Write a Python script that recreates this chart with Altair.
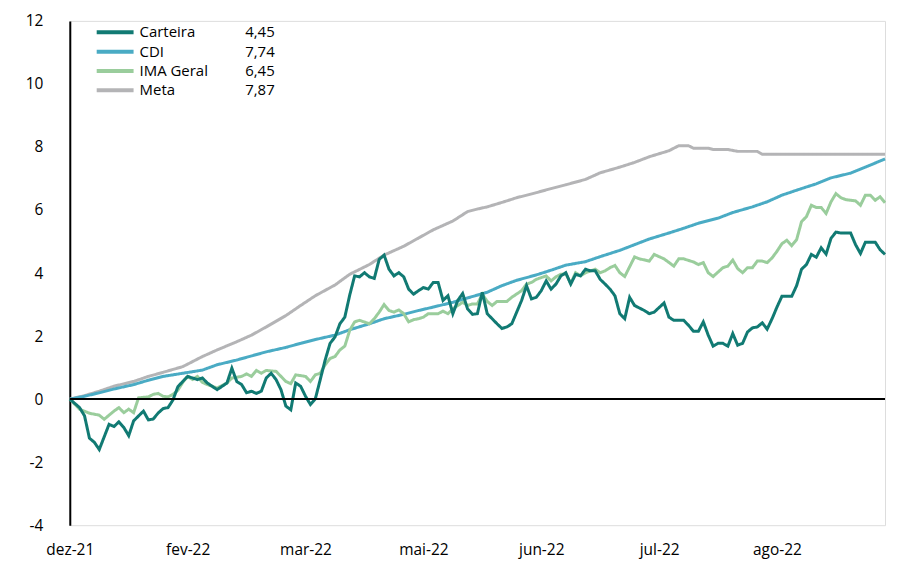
import altair as alt
import pandas as pd

series_names = ["Carteira", "CDI", "IMA Geral", "Meta"]
final_values = ["4,45", "7,74", "6,45", "7,87"]
series_colors = ["#117a73", "#4aabc4", "#9acd9c", "#b4b4b6"]
draw_order = ["Meta", "CDI", "IMA Geral", "Carteira"]

x_tick_pos = [0, 24, 48, 72, 96, 120, 144]
x_tick_labels = ["dez-21", "fev-22", "mar-22", "mai-22", "jun-22", "jul-22", "ago-22"]
y_ticks = [-4, -2, 0, 2, 4, 6, 8, 10, 12]
last_day = 166

carteira_dia = [0, 2, 3, 4, 5, 6, 8, 9, 10, 11, 12, 13, 15, 16, 17, 18, 19, 20, 21, 22,
                23, 24, 26, 27, 28, 30, 32, 33, 34, 35, 36, 37, 38, 39, 40, 41, 42, 43, 44, 45,
                46, 47, 48, 49, 50, 51, 52, 53, 54, 55, 56, 57, 58, 59, 60, 61, 62, 63, 64, 65,
                66, 67, 68, 69, 70, 71, 72, 73, 74, 75, 76, 77, 78, 79, 80, 81, 82, 83, 84, 85,
                86, 87, 88, 89, 90, 91, 92, 93, 94, 95, 96, 97, 98, 99, 100, 101, 102, 103, 104, 105,
                106, 107, 108, 109, 110, 111, 112, 113, 114, 115, 117, 118, 119, 121, 122, 123, 125, 126, 127, 128,
                129, 130, 131, 132, 133, 134, 135, 136, 137, 138, 139, 140, 141, 142, 143, 144, 145, 146, 147, 148,
                149, 150, 151, 152, 153, 154, 155, 156, 157, 158, 159, 160, 161, 162, 163, 164, 165, 166]
carteira_val = [0.0, -0.27, -0.53, -1.24, -1.37, -1.60, -0.80, -0.87, -0.72, -0.90, -1.16, -0.69, -0.38, -0.66, -0.63, -0.44, -0.30, -0.27, -0.03, 0.39,
                0.56, 0.72, 0.62, 0.67, 0.51, 0.30, 0.51, 0.98, 0.56, 0.46, 0.20, 0.25, 0.18, 0.25, 0.67, 0.82, 0.62, 0.30, -0.22, -0.34,
                0.51, 0.41, 0.09, -0.17, 0.01, 0.62, 1.24, 1.77, 1.97, 2.39, 2.60, 3.30, 3.91, 3.88, 4.01, 3.88, 3.83, 4.43, 4.57, 4.12,
                3.91, 4.01, 3.88, 3.49, 3.33, 3.44, 3.54, 3.49, 3.70, 3.70, 3.13, 3.28, 2.71, 3.13, 3.35, 2.86, 2.69, 2.71, 3.39, 2.71,
                2.55, 2.39, 2.24, 2.29, 2.39, 2.76, 3.13, 3.60, 3.18, 3.23, 3.44, 3.75, 3.49, 3.65, 3.91, 4.01, 3.65, 3.96, 3.91, 4.12,
                4.07, 4.07, 3.80, 3.65, 3.49, 3.28, 2.71, 2.55, 3.23, 2.97, 2.81, 2.71, 2.76, 3.05, 2.60, 2.50, 2.50, 2.34, 2.15, 2.15,
                2.45, 2.03, 1.68, 1.77, 1.77, 1.68, 2.08, 1.71, 1.77, 2.13, 2.26, 2.29, 2.42, 2.22, 2.55, 2.92, 3.26, 3.26, 3.26, 3.60,
                4.12, 4.27, 4.59, 4.50, 4.80, 4.60, 5.10, 5.30, 5.27, 5.27, 5.27, 4.90, 4.62, 4.98, 4.98, 4.98, 4.74, 4.59]

ima_dia = [0, 2, 4, 6, 7, 9, 10, 11, 12, 13, 14, 16, 17, 18, 19, 20, 21, 22, 23, 24,
           25, 26, 27, 28, 30, 32, 33, 35, 36, 37, 38, 39, 40, 42, 43, 44, 45, 46, 48, 49,
           50, 51, 52, 53, 54, 55, 56, 57, 58, 59, 61, 62, 63, 64, 65, 66, 67, 68, 69, 70,
           71, 72, 73, 75, 76, 77, 78, 79, 80, 81, 82, 83, 84, 85, 86, 87, 89, 90, 92, 93,
           94, 95, 97, 98, 99, 100, 101, 102, 103, 104, 105, 107, 108, 109, 110, 111, 112, 113, 115, 116,
           118, 119, 121, 123, 124, 125, 127, 128, 129, 130, 131, 132, 133, 134, 135, 136, 137, 138, 139, 140,
           141, 142, 143, 144, 145, 146, 147, 148, 149, 150, 151, 152, 153, 154, 155, 156, 157, 158, 160, 161,
           162, 163, 164, 165, 166]
ima_val = [0.0, -0.32, -0.45, -0.51, -0.64, -0.38, -0.27, -0.43, -0.32, -0.43, 0.04, 0.07, 0.15, 0.18, 0.09, 0.07, 0.15, 0.28, 0.53, 0.72,
           0.62, 0.72, 0.53, 0.46, 0.35, 0.51, 0.67, 0.72, 0.80, 0.72, 0.91, 0.82, 0.91, 0.88, 0.72, 0.56, 0.49, 0.77, 0.72, 0.56,
           0.77, 0.82, 1.09, 1.29, 1.35, 1.56, 1.68, 2.18, 2.45, 2.50, 2.39, 2.55, 2.76, 3.00, 2.81, 2.76, 2.83, 2.71, 2.45, 2.52,
           2.55, 2.60, 2.71, 2.71, 2.79, 2.71, 2.86, 2.97, 3.07, 2.97, 3.02, 3.02, 3.33, 3.10, 2.97, 3.10, 3.10, 3.23, 3.44, 3.65,
           3.70, 3.80, 3.91, 3.75, 3.88, 3.96, 3.98, 3.67, 4.01, 3.91, 4.01, 4.12, 4.01, 4.07, 4.17, 4.24, 4.01, 3.89, 4.51, 4.45,
           4.38, 4.59, 4.45, 4.22, 4.45, 4.45, 4.35, 4.27, 4.33, 4.01, 3.89, 4.03, 4.17, 4.22, 4.41, 4.14, 4.01, 4.17, 4.17, 4.38,
           4.38, 4.33, 4.48, 4.69, 4.93, 5.04, 4.87, 5.06, 5.63, 5.79, 6.15, 6.08, 6.08, 5.89, 6.26, 6.52, 6.39, 6.33, 6.29, 6.15,
           6.47, 6.47, 6.31, 6.42, 6.23]

cdi_dia = [0, 3, 6, 9, 13, 16, 19, 23, 27, 30, 34, 37, 40, 44, 47, 50, 54, 57, 61, 64,
           68, 71, 74, 78, 81, 85, 88, 91, 95, 98, 101, 105, 108, 112, 115, 118, 122, 125, 128, 132,
           135, 139, 142, 145, 149, 152, 155, 159, 162, 166]
cdi_val = [0.0, 0.09, 0.20, 0.32, 0.46, 0.60, 0.72, 0.82, 0.92, 1.09, 1.24, 1.37, 1.50, 1.64, 1.77, 1.89, 2.03, 2.20, 2.39, 2.55,
           2.69, 2.81, 2.92, 3.07, 3.21, 3.39, 3.60, 3.77, 3.94, 4.09, 4.25, 4.36, 4.52, 4.72, 4.90, 5.08, 5.27, 5.42, 5.58, 5.74,
           5.92, 6.10, 6.26, 6.47, 6.68, 6.83, 7.02, 7.17, 7.36, 7.62]

meta_dia = [0, 3, 6, 9, 13, 16, 19, 23, 27, 30, 34, 37, 40, 44, 47, 50, 54, 57, 61, 64,
            68, 71, 74, 78, 81, 83, 85, 88, 91, 95, 98, 101, 105, 108, 112, 115, 118, 122, 124, 126,
            127, 130, 131, 134, 136, 140, 141, 166]
meta_val = [0.0, 0.11, 0.25, 0.41, 0.56, 0.72, 0.85, 1.03, 1.35, 1.56, 1.82, 2.03, 2.29, 2.65, 2.97, 3.28, 3.62, 3.96, 4.27, 4.57,
            4.85, 5.11, 5.37, 5.65, 5.95, 6.03, 6.10, 6.24, 6.39, 6.55, 6.68, 6.80, 6.97, 7.18, 7.36, 7.51, 7.69, 7.88, 8.04, 8.04,
            7.96, 7.96, 7.92, 7.92, 7.86, 7.86, 7.77, 7.77]

rows = []
for name, final, dias, vals in zip(series_names, final_values,
                                   [carteira_dia, cdi_dia, ima_dia, meta_dia],
                                   [carteira_val, cdi_val, ima_val, meta_val]):
    for d, v in zip(dias, vals):
        rows.append({"serie": name, "valor_final": final, "dia": d, "retorno": v})
df = pd.DataFrame(rows)

FONT = "Open Sans"
label_expr = "[" + ",".join("'%s'" % s for s in x_tick_labels) + "][indexof([" + \
    ",".join(str(p) for p in x_tick_pos) + "], datum.value)]"

x_enc = alt.X("dia:Q",
              scale=alt.Scale(domain=[0, last_day], nice=False, zero=False),
              axis=alt.Axis(values=x_tick_pos, labelExpr=label_expr, grid=False, domain=False,
                            ticks=False, labelPadding=17, labelFontSize=15.5, labelFont=FONT,
                            labelColor="black", title=None, labelFlush=False))
y_scale = alt.Scale(domain=[-4, 12], nice=False, zero=False)
y_axis = alt.Axis(values=y_ticks, labelExpr="datum.value + ''", grid=False, domain=True,
                  domainColor="black", domainWidth=2, ticks=False, labelPadding=27,
                  labelFontSize=15.5, labelFont=FONT, labelColor="black", title=None)
y_enc = alt.Y("retorno:Q", scale=y_scale, axis=y_axis)

color_enc = alt.Color("serie:N",
                      scale=alt.Scale(domain=series_names, range=series_colors),
                      legend=alt.Legend(title=None, orient="none", legendX=25, legendY=2,
                                        symbolType="stroke", symbolSize=1369, symbolStrokeWidth=4,
                                        clipHeight=19, rowPadding=0.4, labelOffset=4, padding=0,
                                        labelFont=FONT, labelFontSize=15, labelColor="black"))
dash_enc = alt.StrokeDash("valor_final:N",
                          scale=alt.Scale(domain=final_values, range=[[1, 0]] * len(final_values)),
                          legend=alt.Legend(title=None, orient="none", legendX=161, legendY=2,
                                            symbolSize=0, symbolOpacity=0, symbolStrokeWidth=0,
                                            clipHeight=19, rowPadding=0.4, labelOffset=0, padding=0,
                                            labelFont=FONT, labelFontSize=15, labelColor="black"))

layers = []
for s in draw_order:
    layers.append(
        alt.Chart(df).transform_filter(alt.datum.serie == s)
        .mark_line(strokeWidth=3)
        .encode(x=x_enc, y=y_enc, color=color_enc, strokeDash=dash_enc)
    )

zero_df = pd.DataFrame({"retorno": [0]})
zero_rule = alt.Chart(zero_df).mark_rule(color="black", strokeWidth=2).encode(
    y=alt.Y("retorno:Q", scale=y_scale, axis=y_axis))

chart = alt.layer(*layers, zero_rule).properties(
    width=818, height=506,
    padding={"left": 17, "top": 5, "right": 0, "bottom": 0}
).configure_view(stroke=None).configure(background="white")

chart.save("out.html", embed_options={"renderer": "svg", "actions": False})
